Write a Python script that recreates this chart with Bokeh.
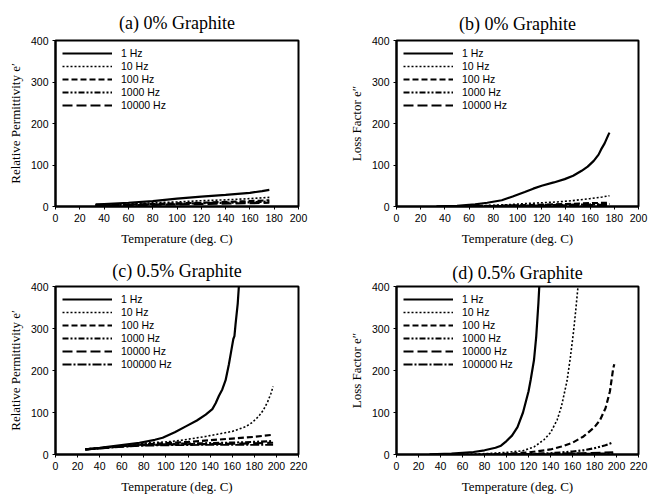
from bokeh.plotting import figure
from bokeh.layouts import gridplot
from bokeh.embed import file_html
from bokeh.resources import INLINE

# ---------------- data ----------------
freqs5 = ["1 Hz", "10 Hz", "100 Hz", "1000 Hz", "10000 Hz"]
freqs6 = ["1 Hz", "10 Hz", "100 Hz", "1000 Hz", "10000 Hz", "100000 Hz"]
x_ticks_ab = [0, 20, 40, 60, 80, 100, 120, 140, 160, 180, 200]
x_ticks_cd = [0, 20, 40, 60, 80, 100, 120, 140, 160, 180, 200, 220]
y_ticks = [0, 100, 200, 300, 400]

# (a) 0% graphite, relative permittivity
a_x1 = [33, 40, 60, 80, 100, 120, 140, 160, 170, 176]
a_y1 = [5, 6, 9, 13, 19, 24, 28, 33, 37, 40]
a_x10 = [33, 60, 80, 100, 120, 140, 160, 176]
a_y10 = [4, 6, 9, 11, 14, 16, 19, 22]
a_x100 = [33, 80, 120, 160, 176]
a_y100 = [3, 6, 9, 13, 15]
a_x1000 = [33, 80, 120, 160, 176]
a_y1000 = [3, 5, 8, 10, 12]
a_x10000 = [33, 80, 120, 160, 176]
a_y10000 = [2, 4, 6, 8, 9]

# (b) 0% graphite, loss factor
b_x1 = [33, 50, 65, 75, 87, 96, 106, 113, 120, 130, 139, 146, 153, 158, 163, 167, 169, 172, 175, 176]
b_y1 = [0.5, 1.5, 5, 9, 15, 24, 35, 43, 50, 58, 66, 74, 86, 96, 110, 125, 137, 152, 172, 178]
b_x10 = [50, 70, 90, 106, 120, 133, 145, 160, 170, 176]
b_y10 = [0.5, 2, 4, 7, 9, 11, 14, 19, 23, 26]
b_x100 = [50, 80, 110, 140, 160, 176]
b_y100 = [0.3, 1.5, 3.5, 6, 8, 9]
b_x1000 = [50, 80, 110, 140, 160, 176]
b_y1000 = [0.2, 1, 2.5, 4, 5, 6]
b_x10000 = [50, 80, 110, 140, 160, 176]
b_y10000 = [0.1, 0.8, 2, 3, 3.5, 4]

# (c) 0.5% graphite, relative permittivity
c_x1 = [27, 40, 58, 76, 90, 97, 108, 118, 128, 136, 142, 145, 148, 151, 154, 157, 159, 161, 162, 163, 165, 166, 167]
c_y1 = [12, 16, 22, 28, 35, 40, 53, 67, 81, 95, 108, 122, 140, 155, 177, 215, 245, 275, 282, 310, 360, 400, 430]
c_x10 = [27, 40, 60, 80, 100, 112, 124, 136, 148, 160, 172, 178, 184, 188, 192, 195, 197]
c_y10 = [12, 15, 21, 27, 30, 33, 38, 43, 49, 55, 66, 76, 91, 105, 125, 145, 162]
c_x100 = [27, 60, 80, 100, 120, 140, 160, 180, 197]
c_y100 = [12, 20, 24, 27, 30, 34, 38, 42, 47]
c_x1000 = [27, 60, 80, 100, 140, 170, 197]
c_y1000 = [12, 20, 23, 25, 27, 29, 32]
c_x10000 = [27, 60, 80, 100, 140, 170, 197]
c_y10000 = [12, 19, 22, 24, 25, 26, 28]
c_x100000 = [27, 60, 80, 100, 140, 170, 197]
c_y100000 = [12, 18, 21, 22, 23, 23, 23]

# (d) 0.5% graphite, loss factor
d_x1 = [30, 50, 60, 70, 80, 90, 95, 100, 105, 110, 115, 120, 122, 125, 127, 129, 130]
d_y1 = [0.5, 2, 4, 6, 10, 16, 21, 32, 45, 65, 100, 150, 178, 225, 280, 360, 410]
d_x10 = [60, 80, 100, 115, 125, 134, 140, 146, 150, 155, 158, 161, 163, 165, 166]
d_y10 = [0.5, 2, 5, 9, 18, 35, 52, 82, 115, 175, 230, 294, 345, 400, 430]
d_x100 = [80, 100, 120, 140, 150, 160, 170, 180, 185, 190, 194, 197, 198]
d_y100 = [0.5, 1.5, 5, 12, 19, 28, 43, 65, 82, 110, 150, 205, 215]
d_x1000 = [100, 120, 140, 160, 170, 180, 190, 197]
d_y1000 = [0.3, 1, 3, 7, 10, 15, 22, 29]
d_x10000 = [100, 140, 170, 197]
d_y10000 = [0.2, 1.5, 3, 5]
d_x100000 = [100, 140, 170, 197]
d_y100000 = [0.1, 1, 2, 3]

# ---------------- styles ----------------
STYLE = {
    "1 Hz": dict(line_dash="solid", line_width=2.2),
    "10 Hz": dict(line_dash="2 2", line_width=1.6),
    "100 Hz": dict(line_dash="6 3", line_width=2.2),
    "1000 Hz": dict(line_dash="6 2 2 2 2 2", line_width=2.2),
    "10000 Hz": dict(line_dash="10 4", line_width=2.2),
    "100000 Hz": dict(line_dash="9 2 2 2", line_width=1.8),
}


def make_panel(title, ylabel, xmax, xticks, series, mb, toff, tstand):
    left, right, top, bottom = mb
    p = figure(width=324, height=248, x_range=(0, xmax), y_range=(0, 400),
               output_backend="svg", toolbar_location=None,
               min_border_left=left, min_border_right=right,
               min_border_top=top, min_border_bottom=bottom,
               background_fill_color="white", border_fill_color="white")
    p.title.text = title
    p.title.text_font = "Liberation Serif"
    p.title.text_font_style = "normal"
    p.title.text_font_size = "18px"
    p.title.text_color = "black"
    p.title.align = "center"
    p.title.offset = toff
    p.title.standoff = tstand
    for name, xs, ys in series:
        p.line(xs, ys, color="black", legend_label=name, **STYLE[name])
    p.xgrid.visible = False
    p.ygrid.visible = False
    p.outline_line_color = "black"
    p.outline_line_width = 2
    p.outline_line_alpha = 1
    for ax in (p.xaxis[0], p.yaxis[0]):
        ax.axis_line_width = 2
        ax.axis_line_color = "black"
        ax.major_tick_in = 0
        ax.major_tick_out = 3
        ax.major_tick_line_width = 1
        ax.major_tick_line_color = "black"
        ax.minor_tick_out = 0
        ax.minor_tick_in = 0
        ax.major_label_text_font = "Liberation Sans"
        ax.major_label_text_font_size = "10.5px"
        ax.major_label_text_color = "black"
        ax.major_label_standoff = 4
        ax.axis_label_text_font = "Liberation Serif"
        ax.axis_label_text_font_style = "normal"
        ax.axis_label_text_font_size = "13px"
        ax.axis_label_text_color = "black"
    p.xaxis.axis_label_standoff = 6
    p.yaxis.axis_label_standoff = 5
    p.xaxis.ticker = xticks
    p.yaxis.ticker = y_ticks
    p.xaxis.axis_label = "Temperature (deg. C)"
    p.yaxis.axis_label = ylabel
    lg = p.legend[0]
    lg.location = "top_left"
    lg.margin = 2
    lg.padding = 5
    lg.border_line_alpha = 0
    lg.background_fill_alpha = 0
    lg.label_text_font = "Liberation Sans"
    lg.label_text_font_size = "10.5px"
    lg.label_text_color = "black"
    lg.glyph_width = 50
    lg.glyph_height = 12
    lg.label_height = 12
    lg.spacing = 1
    lg.label_standoff = 9
    return p


pa = make_panel("(a) 0% Graphite", "Relative Permittivity e\u2032", 200, x_ticks_ab, [
    ("1 Hz", a_x1, a_y1), ("10 Hz", a_x10, a_y10), ("100 Hz", a_x100, a_y100),
    ("1000 Hz", a_x1000, a_y1000), ("10000 Hz", a_x10000, a_y10000)],
    (54, 26, 40, 39), -11, 16)

pb = make_panel("(b) 0% Graphite", "Loss Factor e\u2033", 200, x_ticks_ab, [
    ("1 Hz", b_x1, b_y1), ("10 Hz", b_x10, b_y10), ("100 Hz", b_x100, b_y100),
    ("1000 Hz", b_x1000, b_y1000), ("10000 Hz", b_x10000, b_y10000)],
    (70, 10, 38, 40), 6, 14)

pc = make_panel("(c) 0.5% Graphite", "Relative Permittivity e\u2032", 220, x_ticks_cd, [
    ("1 Hz", c_x1, c_y1), ("10 Hz", c_x10, c_y10), ("100 Hz", c_x100, c_y100),
    ("1000 Hz", c_x1000, c_y1000), ("10000 Hz", c_x10000, c_y10000),
    ("100000 Hz", c_x100000, c_y100000)],
    (55, 24, 38, 41), -2, 12)

pd_ = make_panel("(d) 0.5% Graphite", "Loss Factor e\u2033", 220, x_ticks_cd, [
    ("1 Hz", d_x1, d_y1), ("10 Hz", d_x10, d_y10), ("100 Hz", d_x100, d_y100),
    ("1000 Hz", d_x1000, d_y1000), ("10000 Hz", d_x10000, d_y10000),
    ("100000 Hz", d_x100000, d_y100000)],
    (72, 10, 37, 41), 11, 8)

grid = gridplot([[pa, pb], [pc, pd_]], toolbar_location=None)

open("out.html", "w").write(file_html(grid, INLINE))
